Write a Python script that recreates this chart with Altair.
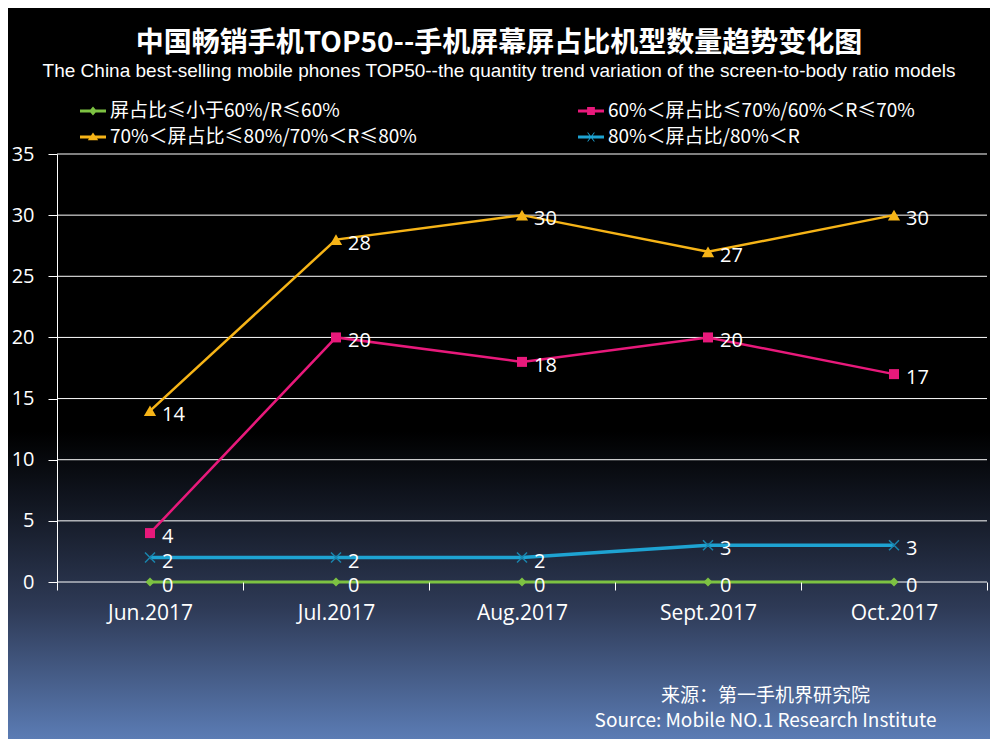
import altair as alt
import pandas as pd

months = ["Jun.2017", "Jul.2017", "Aug.2017", "Sept.2017", "Oct.2017"]
series_names = [
    "屏占比≤小于60%/R≤60%",
    "60%＜屏占比≤70%/60%＜R≤70%",
    "70%＜屏占比≤80%/70%＜R≤80%",
    "80%＜屏占比/80%＜R",
]
s_le60 = [0, 0, 0, 0, 0]
s_60_70 = [4, 20, 18, 20, 17]
s_70_80 = [14, 28, 30, 27, 30]
s_gt80 = [2, 2, 2, 3, 3]
y_ticks = [0, 5, 10, 15, 20, 25, 30, 35]
colors = ["#7dc242", "#e8197b", "#f6b417", "#1ea3d2"]

title_cn = "中国畅销手机TOP50--手机屏幕屏占比机型数量趋势变化图"
title_en = "The China best-selling mobile phones TOP50--the quantity trend variation of the screen-to-body ratio models"
source_lines = ["来源：第一手机界研究院", "Source: Mobile NO.1 Research Institute"]

rows = []
for name, vals in zip(series_names, [s_le60, s_60_70, s_70_80, s_gt80]):
    for m, v in zip(months, vals):
        rows.append({"month": m, "series": name, "value": v})
df = pd.DataFrame(rows)

NUM_FONT = "Open Sans"
CJK_FONT = "Noto Sans CJK SC"

yscale = alt.Scale(domain=[0, 35], nice=False, zero=True)
xscale = alt.Scale(type="band", domain=months, paddingInner=0, paddingOuter=0)

yaxis = alt.Axis(values=y_ticks, title=None, labelColor="white", labelFontSize=20,
                 labelFont=NUM_FONT, labelPadding=14, tickColor="white", tickSize=9,
                 domainColor="white", domainWidth=1, grid=False, zindex=1)
xaxis = alt.Axis(title=source_lines, titleColor="white", titleFontSize=19, titleFont=CJK_FONT,
                 titleFontWeight="normal", titleAlign="center", titleBaseline="top",
                 titleX=708, titleY=104, titleLineHeight=25, labelColor="white",
                 labelFontSize=21, labelFont=NUM_FONT, labelPadding=12, labelAngle=0,
                 tickColor="white", tickSize=8, tickWidth=1, tickBand="extent",
                 domain=False, grid=False, zindex=1)

X = alt.X("month:N", sort=months, scale=xscale, axis=xaxis, bandPosition=0.5)
Y = alt.Y("value:Q", scale=yscale, axis=yaxis)

bg = alt.Chart(alt.Data(values=[{"a": 1}])).mark_rect(
    fill=alt.Gradient(gradient="linear", x1=0, y1=0, x2=0, y2=1,
                      stops=[alt.GradientStop(color="#000000", offset=0),
                             alt.GradientStop(color="#000000", offset=0.58),
                             alt.GradientStop(color="#121722", offset=0.68),
                             alt.GradientStop(color="#2e3a56", offset=0.82),
                             alt.GradientStop(color="#5b7cb4", offset=1)])
).encode(x=alt.value(-49), x2=alt.value(933), y=alt.value(-146), y2=alt.value(585))

grid = alt.Chart(pd.DataFrame({"value": y_ticks})).mark_rule(color="white", strokeWidth=1).encode(y=Y)

line_w = [3, 2.5, 2.5, 3.5]
layers = [bg, grid]
for i, name in enumerate(series_names):
    base = alt.Chart(df).transform_filter(alt.datum.series == name).encode(x=X, y=Y)
    layers.append(base.mark_line(color=colors[i], strokeWidth=line_w[i]))

pt_specs = [
    dict(shape="diamond", size=81, filled=True, color=colors[0]),
    dict(shape="square", size=100, filled=True, color=colors[1]),
    dict(shape="triangle-up", size=150, filled=True, color=colors[2]),
    dict(shape="M-1,-1L1,1M-1,1L1,-1", size=100, filled=False, color="#1a85ad", strokeWidth=1.5),
]
for i, name in enumerate(series_names):
    base = alt.Chart(df).transform_filter(alt.datum.series == name).encode(x=X, y=Y)
    layers.append(base.mark_point(opacity=1, **pt_specs[i]))

for i, name in enumerate(series_names):
    base = alt.Chart(df).transform_filter(alt.datum.series == name).encode(x=X, y=Y)
    layers.append(base.mark_text(align="left", baseline="middle", dx=12, dy=4, fontSize=20,
                                 color="white", font=NUM_FONT).encode(text="value:Q"))

legend_paths = [
    "M-1,-0.12L1,-0.12L1,0.12L-1,0.12Z M0,-0.35L0.3,0L0,0.35L-0.3,0Z",
    "M-1,-0.12L1,-0.12L1,0.12L-1,0.12Z M-0.3,-0.3L0.3,-0.3L0.3,0.3L-0.3,0.3Z",
    "M-1,-0.12L1,-0.12L1,0.12L-1,0.12Z M0,-0.35L0.4,0.25L-0.4,0.25Z",
    "M-1,-0.12L1,-0.12L1,0.12L-1,0.12Z M-0.3,-0.35L-0.22,-0.35L0.3,0.35L0.22,0.35Z M0.22,-0.35L0.3,-0.35L-0.22,0.35L-0.3,0.35Z",
]
# legend fills columns first, so order entries column by column
leg_order = [0, 2, 1, 3]
leg_domain = [series_names[k] for k in leg_order]
leg_colors = [colors[k] for k in leg_order]
leg_paths = [legend_paths[k] for k in leg_order]

leg = alt.Legend(title=None, orient="none", legendX=23, legendY=-56, columns=2,
                 columnPadding=161, rowPadding=3, symbolSize=676, labelFontSize=19,
                 labelColor="white", labelFont=CJK_FONT, labelOffset=4,
                 symbolStrokeWidth=0, labelLimit=600)
legend_layer = alt.Chart(df).transform_filter("false").mark_point(filled=True, opacity=1).encode(
    color=alt.Color("series:N", scale=alt.Scale(domain=leg_domain, range=leg_colors), legend=leg),
    shape=alt.Shape("series:N", scale=alt.Scale(domain=leg_domain, range=leg_paths), legend=leg),
)
layers.append(legend_layer)

chart = alt.layer(*layers).properties(
    width=930, height=428,
    autosize=alt.AutoSizeParams(type="none"),
    padding={"left": 49, "top": 146, "right": 3, "bottom": 157},
    background="#000000",
    title=alt.TitleParams(text=title_cn, subtitle=title_en, anchor="middle", frame="bounds",
                          color="white", fontSize=28, font=CJK_FONT, fontWeight="bold",
                          subtitleColor="white", subtitleFontSize=19, subtitleFont="Liberation Sans",
                          subtitlePadding=4, offset=-73),
).configure_view(stroke=None)

chart.save("out.html", embed_options={"renderer": "svg", "actions": False})
